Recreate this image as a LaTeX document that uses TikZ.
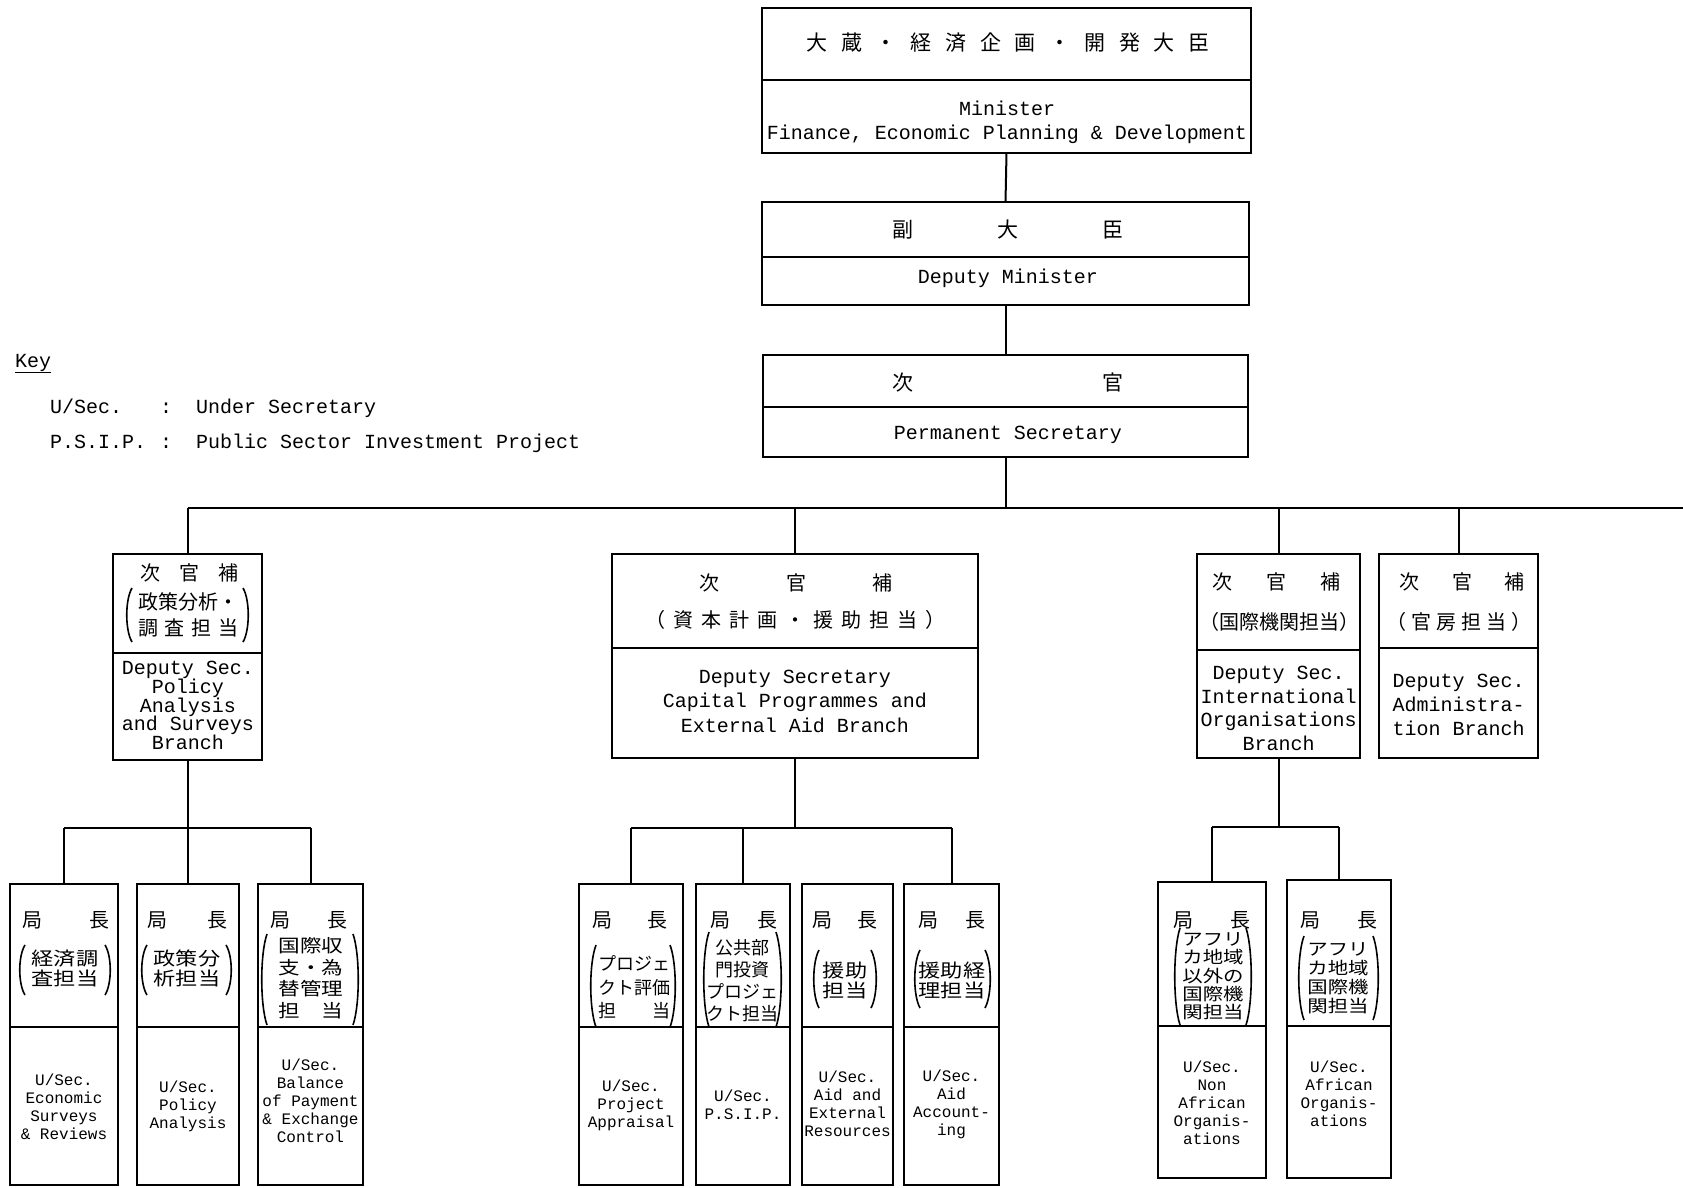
\documentclass[tikz,border=0pt]{standalone}
\usepackage{fontspec}
\newfontfamily\mono{Liberation Mono}
\newfontfamily\jp{Noto Sans CJK JP}
\newfontfamily\jpw[FakeStretch=1.2]{Noto Sans CJK JP}
\newcommand\parpair[4]{%
  \draw[paren] ({#1+7},{#3}) .. controls ({#1},{#3+(#4-#3)*0.22}) and ({#1},{#4-(#4-#3)*0.22}) .. ({#1+7},{#4});
  \draw[paren] ({#2-7},{#3}) .. controls ({#2},{#3+(#4-#3)*0.22}) and ({#2},{#4-(#4-#3)*0.22}) .. ({#2-7},{#4});}
\begin{document}
\begin{tikzpicture}[x=1pt,y=-1pt,
  box/.style={draw, line width=2.6pt, rectangle, inner sep=0pt, outer sep=0pt},
  divider/.style={line width=1.3pt},
  conn/.style={line width=2pt},
  paren/.style={line width=1.6pt},
  entext/.style={font=\mono\fontsize{20}{24}\selectfont, align=center, inner sep=0pt},
  ensm/.style={font=\mono\fontsize{16}{18}\selectfont, align=center, inner sep=0pt},
  jptext/.style={font=\jp\fontsize{20}{24}\selectfont, inner sep=0pt},
  jpblock/.style={font=\jpw\fontsize{18.5}{20}\selectfont, align=center, inner sep=0pt}]
\useasboundingbox (0,0) rectangle (1683,1187);
\fill[white] (0,0) rectangle (1683,1187);

% ---------- Key ----------
\node[entext, anchor=base west] (key) at (15,367) {\underline{Key}};
\node[entext, anchor=base west] (k1a) at (50,413) {U/Sec.};
\node[entext, anchor=base west] (k1b) at (160,413) {:};
\node[entext, anchor=base west] (k1c) at (196,413) {Under Secretary};
\node[entext, anchor=base west] (k2a) at (50,448) {P.S.I.P.};
\node[entext, anchor=base west] (k2b) at (160,448) {:};
\node[entext, anchor=base west] (k2c) at (196,448) {Public Sector Investment Project};

% ---------- Minister ----------
\node[box, minimum width=489pt, minimum height=145pt] (min) at (1006.5,80.5) {};
\draw[divider] (762,80) -- (1251,80);
\node[jptext, font=\jp\fontsize{21}{24}\selectfont] (minj) at (1008,43)
  {\hbox to 403pt{大\hfill 蔵\hfill ・\hfill 経\hfill 済\hfill 企\hfill 画\hfill ・\hfill 開\hfill 発\hfill 大\hfill 臣}};
\node[entext] (mine) at (1007,122) {Minister\\Finance, Economic Planning \& Development};

% ---------- Deputy Minister ----------
\node[box, minimum width=487pt, minimum height=103pt] (dmin) at (1005.5,253.5) {};
\draw[divider] (762,257) -- (1249,257);
\node[jptext, font=\jp\fontsize{21}{24}\selectfont] (dminj) at (1008,230) {\hbox to 231pt{副\hfill 大\hfill 臣}};
\node[entext] (dmine) at (1008,278) {Deputy Minister};

% ---------- Permanent Secretary ----------
\node[box, minimum width=485pt, minimum height=102pt] (ps) at (1005.5,406) {};
\draw[divider] (763,407) -- (1248,407);
\node[jptext, font=\jp\fontsize{21}{24}\selectfont] (psj) at (1008,383) {\hbox to 231pt{次\hfill 官}};
\node[entext] (pse) at (1008,435) {Permanent Secretary};

% ---------- Deputy Secretaries ----------
\node[box, minimum width=149pt, minimum height=206pt] (dA) at (187.5,657) {};
\draw[divider] (113,653) -- (262,653);
\node[jptext] (dAj1) at (189,573) {\hbox to 98pt{次\hfill 官\hfill 補}};
\node[jptext, align=center, font=\jp\fontsize{20}{26}\selectfont] (dAj2) at (188,615)
  {政策分析・\\\hbox to 100pt{調\hfill 査\hfill 担\hfill 当}};
\parpair{125}{250}{588}{642}
\node[entext, font=\mono\fontsize{20}{18.8}\selectfont] (dAe) at (188,705.5)
  {Deputy Sec.\\Policy\\Analysis\\and Surveys\\Branch};

\node[box, minimum width=366pt, minimum height=204pt] (dB) at (795,656) {};
\draw[divider] (612,648) -- (978,648);
\node[jptext] (dBj1) at (796,583) {\hbox to 193pt{次\hfill 官\hfill 補}};
\node[jptext] (dBj2) at (795,620)
  {\hbox to 300pt{（\hfill 資\hfill 本\hfill 計\hfill 画\hfill ・\hfill 援\hfill 助\hfill 担\hfill 当\hfill ）}};
\node[entext, font=\mono\fontsize{20}{24.5}\selectfont] (dBe) at (795,701)
  {Deputy Secretary\\Capital Programmes and\\External Aid Branch};

\node[box, minimum width=163pt, minimum height=204pt] (dC) at (1278.5,656) {};
\draw[divider] (1197,650) -- (1360,650);
\node[jptext] (dCj1) at (1276,582) {\hbox to 128pt{次\hfill 官\hfill 補}};
\node[jptext, font=\jp\fontsize{20}{22}\selectfont] (dCj2) at (1279,622) {（国際機関担当）};
\node[entext, font=\mono\fontsize{20}{23.6}\selectfont] (dCe) at (1278.5,708.5)
  {Deputy Sec.\\International\\Organisations\\Branch};

\node[box, minimum width=159pt, minimum height=204pt] (dD) at (1458.5,656) {};
\draw[divider] (1379,648) -- (1538,648);
\node[jptext] (dDj1) at (1462,582) {\hbox to 125pt{次\hfill 官\hfill 補}};
\node[jptext] (dDj2) at (1459,622) {\hbox to 145pt{（\hfill 官\hfill 房\hfill 担\hfill 当\hfill ）}};
\node[entext, font=\mono\fontsize{20}{24}\selectfont] (dDe) at (1458.5,705)
  {Deputy Sec.\\Administra-\\tion Branch};

% ---------- Under Secretaries ----------
\node[box, minimum width=108pt, minimum height=301pt] (u1) at (64,1034.5) {};
\draw[divider] (10,1027) -- (118,1027);
\node[jptext] (u1h) at (66,920) {\hbox to 87pt{局\hfill 長}};
\node[jpblock] (u1j) at (65,968) {経済調\\査担当};
\parpair{18}{112}{945}{995}
\node[ensm] (u1e) at (64,1106.5) {U/Sec.\\Economic\\Surveys\\\& Reviews};

\node[box, minimum width=102pt, minimum height=301pt] (u2) at (188,1034.5) {};
\draw[divider] (137,1027) -- (239,1027);
\node[jptext] (u2h) at (187,920) {\hbox to 80pt{局\hfill 長}};
\node[jpblock] (u2j) at (187,968) {政策分\\析担当};
\parpair{140}{233}{945}{995}
\node[ensm] (u2e) at (188,1106.5) {U/Sec.\\Policy\\Analysis};

\node[box, minimum width=105pt, minimum height=301pt] (u3) at (310.5,1034.5) {};
\draw[divider] (258,1027) -- (363,1027);
\node[jptext] (u3h) at (308.5,920) {\hbox to 77pt{局\hfill 長}};
\node[jpblock, font=\jpw\fontsize{18}{21.5}\selectfont] (u3j) at (311,978) {国際収\\支・為\\替管理\\担　当};
\parpair{260}{360}{934}{1025}
\node[ensm] (u3e) at (310.5,1100.5) {U/Sec.\\Balance\\of Payment\\\& Exchange\\Control};

\node[box, minimum width=104pt, minimum height=301pt] (u4) at (631,1034.5) {};
\draw[divider] (579,1027) -- (683,1027);
\node[jptext] (u4h) at (630,920) {\hbox to 75pt{局\hfill 長}};
\node[jpblock, font=\jp\fontsize{18}{23.5}\selectfont] (u4j) at (634,987.5) {プロジェ\\クト評価\\担　　当};
\parpair{589}{677}{945}{1027}
\node[ensm] (u4e) at (631,1105.5) {U/Sec.\\Project\\Appraisal};

\node[box, minimum width=94pt, minimum height=301pt] (u5) at (743,1034.5) {};
\draw[divider] (696,1027) -- (790,1027);
\node[jptext] (u5h) at (743.5,920) {\hbox to 67pt{局\hfill 長}};
\node[jpblock, font=\jp\fontsize{18}{22}\selectfont] (u5j) at (742.5,980.5) {公共部\\門投資\\プロジェ\\クト担当};
\parpair{702}{783}{932}{1027}
\node[ensm] (u5e) at (743,1105) {U/Sec.\\P.S.I.P.};

\node[box, minimum width=91pt, minimum height=301pt] (u6) at (847.5,1034.5) {};
\draw[divider] (802,1027) -- (893,1027);
\node[jptext] (u6h) at (844.5,920) {\hbox to 65pt{局\hfill 長}};
\node[jpblock] (u6j) at (845,980) {援助\\担当};
\parpair{812}{878}{950}{1008}
\node[ensm] (u6e) at (847.5,1104) {U/Sec.\\Aid and\\External\\Resources};

\node[box, minimum width=95pt, minimum height=301pt] (u7) at (951.5,1034.5) {};
\draw[divider] (904,1027) -- (999,1027);
\node[jptext] (u7h) at (951.5,920) {\hbox to 67pt{局\hfill 長}};
\node[jpblock] (u7j) at (952,980) {援助経\\理担当};
\parpair{913}{992}{950}{1008}
\node[ensm] (u7e) at (951.5,1104) {U/Sec.\\Aid\\Account-\\ing};

\node[box, minimum width=108pt, minimum height=296pt] (u8) at (1212,1030) {};
\draw[divider] (1158,1026) -- (1266,1026);
\node[jptext] (u8h) at (1211.5,920) {\hbox to 77pt{局\hfill 長}};
\node[jpblock, font=\jpw\fontsize{17}{18.3}\selectfont] (u8j) at (1213,976.5) {アフリ\\カ地域\\以外の\\国際機\\関担当};
\parpair{1173}{1253}{928}{1025}
\node[ensm] (u8e) at (1212,1102.5) {U/Sec.\\Non\\African\\Organis-\\ations};

\node[box, minimum width=104pt, minimum height=298pt] (u9) at (1339,1029) {};
\draw[divider] (1287,1026) -- (1391,1026);
\node[jptext] (u9h) at (1338.5,920) {\hbox to 77pt{局\hfill 長}};
\node[jpblock, font=\jpw\fontsize{17}{19}\selectfont] (u9j) at (1338,978) {アフリ\\カ地域\\国際機\\関担当};
\parpair{1297}{1380}{936}{1020}
\node[ensm] (u9e) at (1339,1093.5) {U/Sec.\\African\\Organis-\\ations};

% ---------- Connectors ----------
\draw[conn] (min.south) -- (dmin.north);
\draw[conn] (dmin.south) -- (ps.north);
\coordinate (bus0L) at (187.5,508);
\coordinate (bus0R) at (1683,508);
\draw[conn] (ps.south) -- (ps.south |- bus0L);
\draw[conn] (bus0L) -- (bus0R);
\draw[conn] (dA.north) -- (dA.north |- bus0L);
\draw[conn] (dB.north) -- (dB.north |- bus0L);
\draw[conn] (dC.north) -- (dC.north |- bus0L);
\draw[conn] (dD.north) -- (dD.north |- bus0L);

\coordinate (bus1) at (0,828);
\draw[conn] (dA.south) -- (dA.south |- bus1);
\draw[conn] (u1.north |- bus1) -- (u3.north |- bus1);
\draw[conn] (u1.north) -- (u1.north |- bus1);
\draw[conn] (u2.north) -- (u2.north |- bus1);
\draw[conn] (u3.north) -- (u3.north |- bus1);

\coordinate (bus2) at (0,828);
\draw[conn] (dB.south) -- (dB.south |- bus2);
\draw[conn] (u4.north |- bus2) -- (u7.north |- bus2);
\draw[conn] (u4.north) -- (u4.north |- bus2);
\draw[conn] (u5.north) -- (u5.north |- bus2);
\draw[conn] (u7.north) -- (u7.north |- bus2);

\coordinate (bus3) at (0,827);
\draw[conn] (dC.south) -- (dC.south |- bus3);
\draw[conn] (u8.north |- bus3) -- (u9.north |- bus3);
\draw[conn] (u8.north) -- (u8.north |- bus3);
\draw[conn] (u9.north) -- (u9.north |- bus3);
\end{tikzpicture}
\end{document}
